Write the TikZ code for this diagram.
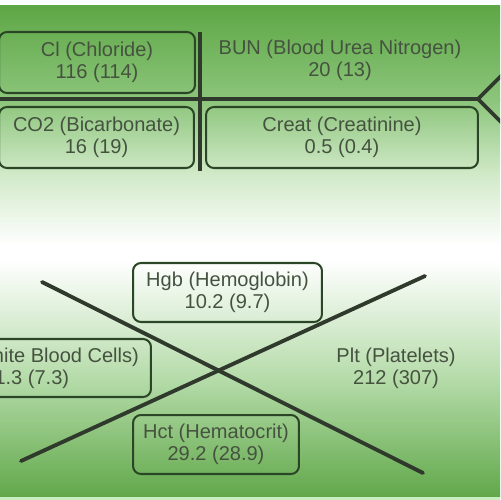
\documentclass[tikz,border=0pt]{standalone}
\usepackage{fontspec}
\setmainfont{Liberation Sans}
\definecolor{gtop}{HTML}{5EA746}
\definecolor{gmid1}{HTML}{8CC57B}
\definecolor{gmid2}{HTML}{D2EAC9}
\definecolor{gbot}{HTML}{61A84A}
\definecolor{gbotmid}{HTML}{B4DBA8}
\definecolor{linec}{HTML}{2F3A2D}
\definecolor{boxc}{HTML}{2B4626}
\definecolor{txtc}{HTML}{45523F}
\definecolor{edgec}{HTML}{C9EEC0}
\begin{document}
\begin{tikzpicture}[x=0.02cm,y=-0.02cm,
  lbl/.style={font=\fontsize{11.4}{12.6}\selectfont, text=txtc, align=center, inner sep=0pt},
  labbox/.style={lbl, draw=boxc, line width=1.15pt, rounded corners=0.16cm},
  bone/.style={draw=linec, line width=2.2pt}]
\useasboundingbox (0,0) rectangle (500,500);
\clip (0,0) rectangle (500,500);
% background
\fill[white] (0,0) rectangle (500,6);
\shade[top color=gtop, bottom color=gmid1] (0,6) rectangle (500,100.5);
\shade[top color=gmid1, bottom color=gmid2] (0,100) rectangle (500,175.5);
\shade[top color=gmid2, bottom color=white] (0,175) rectangle (500,245.5);
\fill[white] (0,245) rectangle (500,260.5);
\shade[top color=white, bottom color=gbotmid] (0,260) rectangle (500,380.5);
\shade[top color=gbotmid, bottom color=gbot] (0,380) rectangle (500,497);
\fill[edgec] (0,497) rectangle (500,500);
% coordinates of bone lines
\coordinate (hl) at (-5,99);
\coordinate (apex) at (478,99);
\coordinate (bu) at (505,72);
\coordinate (bd) at (505,126);
\coordinate (vt) at (200,32);
\coordinate (vb) at (200,171);
\coordinate (x1a) at (42,282);
\coordinate (x1b) at (423,473);
\coordinate (x2a) at (21,461);
\coordinate (x2b) at (425,276);
\draw[bone] (hl) -- (apex);
\draw[bone] (bu) -- (apex) -- (bd);
\draw[bone] (vt) -- (vb);
\draw[bone, line cap=round] (x1a) -- (x1b);
\draw[bone, line cap=round] (x2a) -- (x2b);
% nodes
\node[labbox, minimum width=3.92cm, minimum height=1.22cm] (cl) at (97,62.5) {Cl (Chloride)\\116 (114)};
\node[labbox, minimum width=3.9cm, minimum height=1.22cm] (co2) at (96.5,137.5) {CO2 (Bicarbonate)\\16 (19)};
\node[lbl] (bun) at (340,60.5) {BUN (Blood Urea Nitrogen)\\20 (13)};
\node[labbox, minimum width=5.44cm, minimum height=1.22cm] (creat) at (342,137.5) {Creat (Creatinine)\\0.5 (0.4)};
\node[labbox, minimum width=3.78cm, minimum height=1.18cm] (hgb) at (227.5,292.5) {Hgb (Hemoglobin)\\10.2 (9.7)};
\node[labbox, minimum width=4.96cm, minimum height=1.16cm] (wbc) at (27,368) {WBC (White Blood Cells)\\11.3 (7.3)};
\node[labbox, minimum width=3.32cm, minimum height=1.18cm] (hct) at (216,444.5) {Hct (Hematocrit)\\29.2 (28.9)};
\node[lbl] (plt) at (396,368.5) {Plt (Platelets)\\212 (307)};
\end{tikzpicture}
\end{document}
